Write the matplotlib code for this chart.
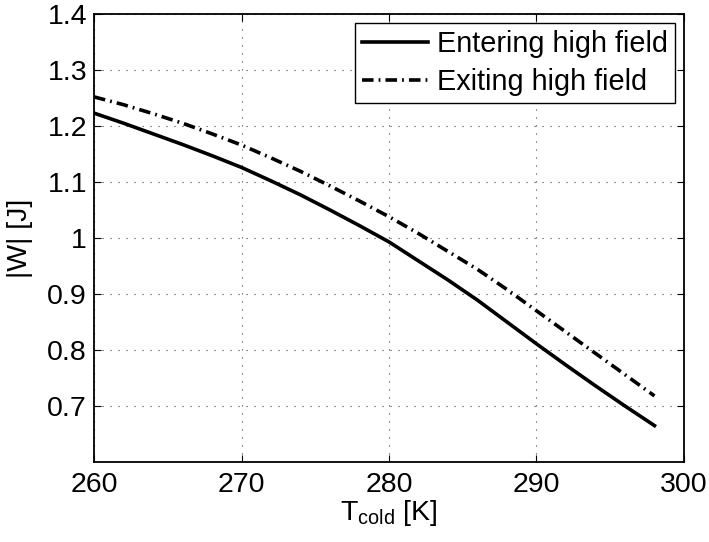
import numpy as np
from matplotlib import pyplot as plt
from matplotlib.ticker import FormatStrFormatter

plt.rcParams['font.family'] = ['Liberation Sans', 'DejaVu Sans']
plt.rcParams['mathtext.fontset'] = 'custom'
plt.rcParams['mathtext.rm'] = 'Liberation Sans'
plt.rcParams['mathtext.it'] = 'Liberation Sans'

# temperatura fria (K) y trabajo |W| (J)
t_cold = [260, 262, 264, 266, 268, 270, 272, 274, 276, 278,
          280, 282, 284, 286, 288, 290, 292, 294, 296, 298]
w_entrando = [1.223, 1.205, 1.186, 1.167, 1.147, 1.126, 1.102, 1.077, 1.050, 1.022,
              0.993, 0.959, 0.925, 0.889, 0.850, 0.811, 0.773, 0.736, 0.700, 0.665]
w_saliendo = [1.252, 1.238, 1.222, 1.205, 1.186, 1.166, 1.143, 1.119, 1.093, 1.066,
              1.038, 1.008, 0.976, 0.944, 0.908, 0.870, 0.832, 0.794, 0.756, 0.718]

etiquetas = ["Entering high field", "Exiting high field"]

fig = plt.figure(figsize=(7.09, 5.42), dpi=100)
ax = fig.add_axes([0.1326, 0.1476, 0.8321, 0.8266])

ax.plot(t_cold, w_entrando, color='black', lw=2.6, label=etiquetas[0])
ax.plot(t_cold, w_saliendo, color='black', lw=2.6,
        linestyle=(0, (3.2, 1.4, 0.5, 1.4)), dash_capstyle='butt', label=etiquetas[1])

ax.set_xlim(260, 300)
ax.set_ylim(0.6, 1.4)
ax.set_xticks([260, 270, 280, 290, 300])
ax.set_yticks([0.7, 0.8, 0.9, 1.0, 1.1, 1.2, 1.3, 1.4])
ax.yaxis.set_major_formatter(FormatStrFormatter('%g'))

ax.grid(True, color='black', linestyle=(0, (1, 6.2)), lw=0.8, alpha=0.75)
ax.tick_params(direction='in', top=True, right=True, length=5, width=0.8,
               labelsize=20.5)
ax.tick_params(axis='x', pad=7)
ax.tick_params(axis='y', pad=5)
for s in ax.spines.values():
    s.set_linewidth(1.3)

ax.set_xlabel(r'T$_{\mathrm{cold}}$ [K]', fontsize=20.5, labelpad=0)
ax.set_ylabel('|W| [J]', fontsize=20.5, labelpad=10)

leg = ax.legend(loc='upper right', fontsize=20.8, fancybox=False, framealpha=1,
                edgecolor='black', borderaxespad=0.3, borderpad=0.25,
                labelspacing=0.35, handlelength=2.3, handletextpad=0.3)
leg.get_frame().set_linewidth(1.0)

fig.savefig('out.png', dpi=100)
